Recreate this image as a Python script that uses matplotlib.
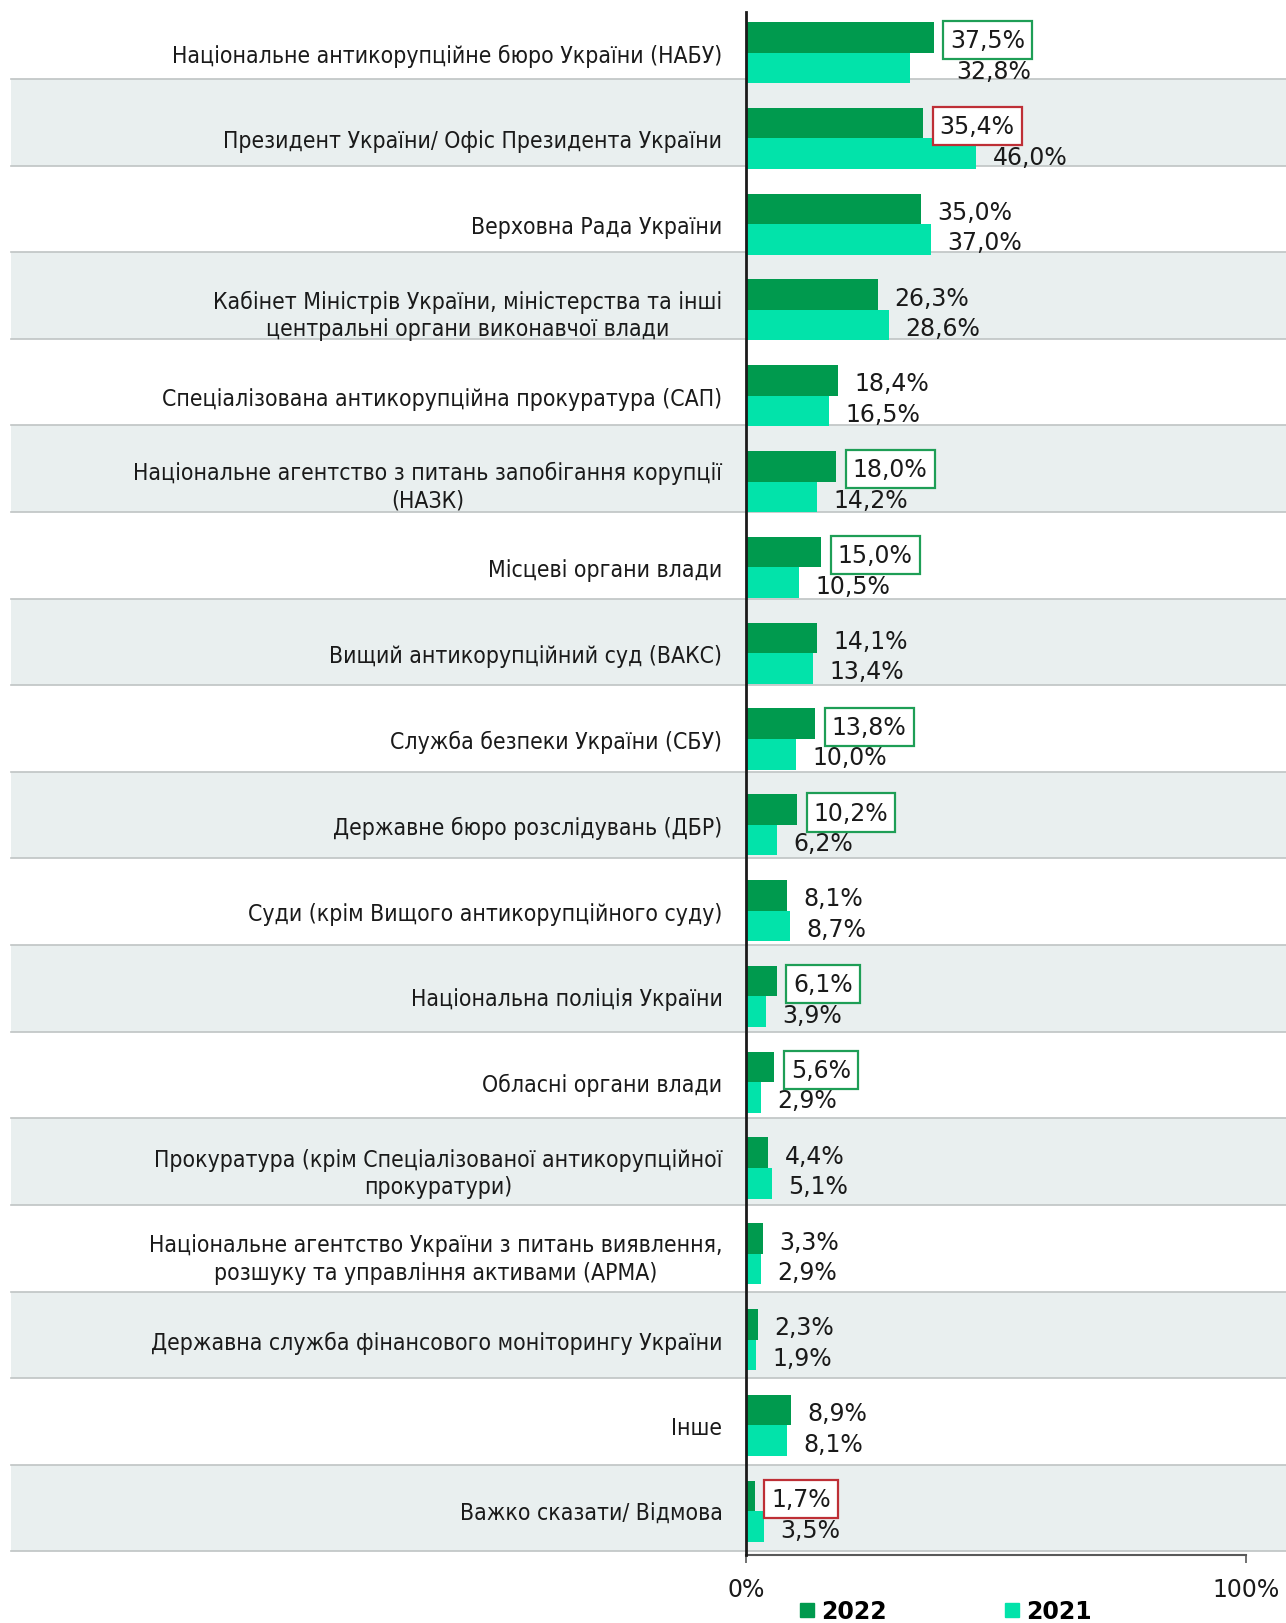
import numpy as np
import matplotlib
matplotlib.use('Agg')
import matplotlib.pyplot as plt
from matplotlib.lines import Line2D
from matplotlib.patches import Rectangle
from matplotlib.transforms import blended_transform_factory

# data
categories = [
    'Національне антикорупційне бюро України (НАБУ)',
    'Президент України/ Офіс Президента України',
    'Верховна Рада України',
    'Кабінет Міністрів України, міністерства та інші\nцентральні органи виконавчої влади',
    'Спеціалізована антикорупційна прокуратура (САП)',
    'Національне агентство з питань запобігання корупції\n(НАЗК)',
    'Місцеві органи влади',
    'Вищий антикорупційний суд (ВАКС)',
    'Служба безпеки України (СБУ)',
    'Державне бюро розслідувань (ДБР)',
    'Суди (крім Вищого антикорупційного суду)',
    'Національна поліція України',
    'Обласні органи влади',
    'Прокуратура (крім Спеціалізованої антикорупційної\nпрокуратури)',
    'Національне агентство України з питань виявлення,\nрозшуку та управління активами (АРМА)',
    'Державна служба фінансового моніторингу України',
    'Інше',
    'Важко сказати/ Відмова',
]
values_2022 = [37.5, 35.4, 35.0, 26.3, 18.4, 18.0, 15.0, 14.1, 13.8, 10.2,
               8.1, 6.1, 5.6, 4.4, 3.3, 2.3, 8.9, 1.7]
values_2021 = [32.8, 46.0, 37.0, 28.6, 16.5, 14.2, 10.5, 13.4, 10.0, 6.2,
               8.7, 3.9, 2.9, 5.1, 2.9, 1.9, 8.1, 3.5]
# significant change markers on the 2022 values
change_2022 = ['up', 'down', None, None, None, 'up', 'up', None, 'up', 'up',
               None, 'up', 'up', None, None, None, None, 'down']
series_names = ['2022', '2021']
xtick_vals = [0, 100]
xtick_labels = ['0%', '100%']

DARK = '#009A4E'
MINT = '#02E3AA'
BAND = '#E9EFEF'
SEP = '#BFC4C4'
BOX = {'up': '#1E9E56', 'down': '#BE2F36'}

W, H = 1286, 1624
fig = plt.figure(figsize=(W / 100, H / 100), dpi=100)
ax = fig.add_axes([746 / W, (H - 1556) / H, 500 / W, 1543 / H])

n = len(categories)
y = np.arange(n)
bh = 0.356

# alternating row bands and separators (slightly different pitch than bars)
band_tr = blended_transform_factory(fig.transFigure, ax.transData)
band_pitch = 86.6 / 85.8
band_off = (80 - 53.5) / 85.8
for k in range(n):
    top = band_off + band_pitch * (k - 1)
    bot = band_off + band_pitch * k
    if k % 2 == 1:
        ax.add_patch(Rectangle((11 / W, top), (W - 11) / W, bot - top,
                               transform=band_tr, facecolor=BAND,
                               edgecolor='none', clip_on=False, zorder=0))
    ax.add_line(Line2D([11 / W, 1.0], [bot, bot], transform=band_tr,
                       color=SEP, lw=1.2, clip_on=False, zorder=0.5))

ax.barh(y - bh / 2, values_2022, height=bh, color=DARK, zorder=2)
ax.barh(y + bh / 2, values_2021, height=bh, color=MINT, zorder=2)


def fmt(v):
    return f'{v:.1f}'.replace('.', ',') + '%'


for i in range(n):
    # 2021 labels
    dx = 33 if i == 0 else 12
    ax.annotate(fmt(values_2021[i]), (values_2021[i], y[i] + bh / 2 + 0.035),
                xytext=(dx, 0), textcoords='offset points', va='center',
                ha='left', fontsize=17, color='#1a1a1a', zorder=3)
    # 2022 labels, boxed where the change is significant
    box = None
    if change_2022[i]:
        box = dict(boxstyle='square,pad=0.3', facecolor='white',
                   edgecolor=BOX[change_2022[i]], lw=1.6)
    ax.annotate(fmt(values_2022[i]), (values_2022[i], y[i] - bh / 2 + 0.035),
                xytext=(12, 0), textcoords='offset points', va='center',
                ha='left', fontsize=17, color='#1a1a1a', bbox=box, zorder=4)

ax.set_xlim(0, 100)
ax.set_ylim(17.51, -0.472)
ax.set_yticks(y, labels=categories, fontsize=16.5, fontstretch='condensed',
              multialignment='center', color='#1a1a1a', linespacing=1.25)
ax.tick_params(axis='y', length=0, pad=17)
ax.set_xticks(xtick_vals, labels=xtick_labels, fontsize=17, color='#1a1a1a')
ax.tick_params(axis='x', length=6, width=1.2, color='#595959', pad=10)

ax.set_facecolor('none')
for s in ['top', 'right']:
    ax.spines[s].set_visible(False)
ax.spines['left'].set_color('#1a1a1a')
ax.spines['left'].set_linewidth(2)
ax.spines['bottom'].set_color('#595959')
ax.spines['bottom'].set_linewidth(1.5)
ax.spines['left'].set_zorder(5)

handles = [Line2D([], [], marker='s', linestyle='none', color=c, markersize=9.5)
           for c in [DARK, MINT]]
fig.legend(handles, series_names, loc='center left',
           bbox_to_anchor=(800 / W, 1 - 1612 / H), ncol=2, frameon=False,
           prop={'size': 17, 'weight': 'bold'}, handlelength=0.6,
           handletextpad=0.3, columnspacing=5.0, borderpad=0, borderaxespad=0)

fig.savefig('out.png', dpi=100, facecolor='white')
